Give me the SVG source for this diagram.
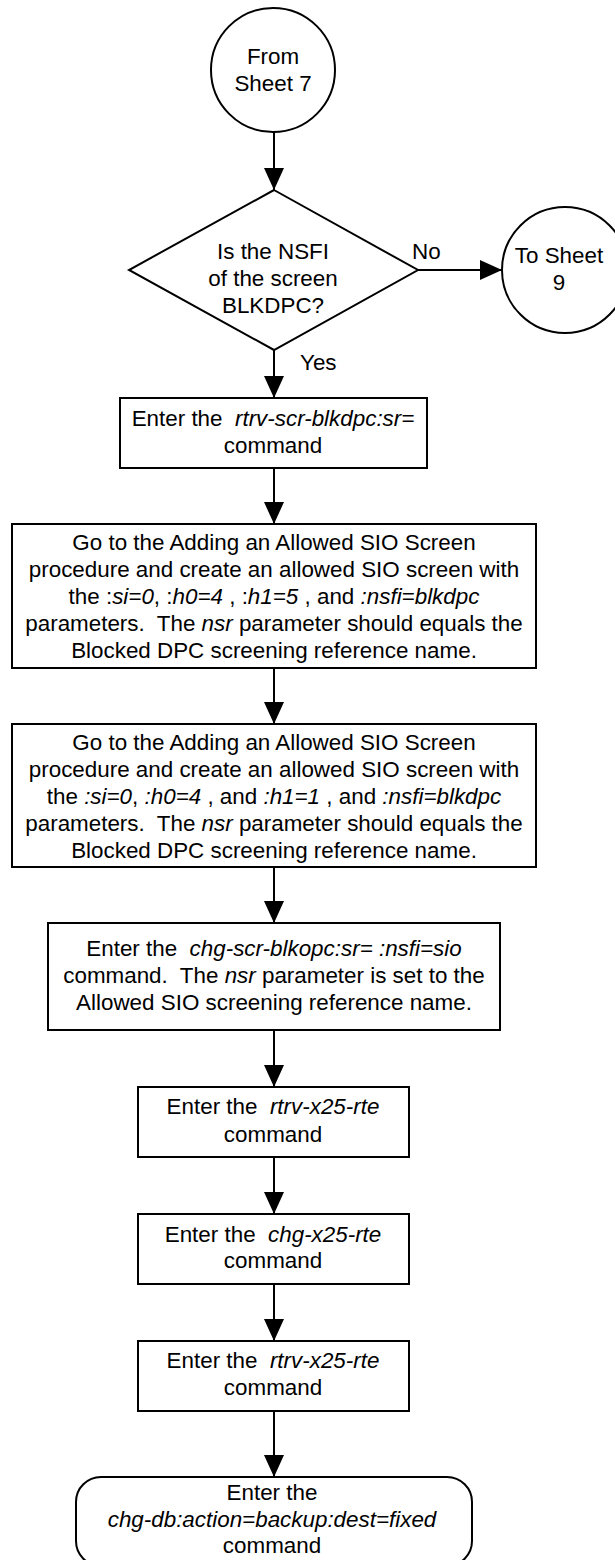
<svg xmlns="http://www.w3.org/2000/svg" width="615" height="1560" viewBox="0 0 615 1560">
<style>
  .shape { fill: #ffffff; stroke: #000000; stroke-width: 2; }
  .conn { fill: none; stroke: #000000; stroke-width: 2; }
  text { font-family: "Liberation Sans", Arial, Helvetica, sans-serif; font-size: 22.4px; fill: #000000; }
  .c { text-anchor: middle; }
  .i { font-style: italic; }
</style>
<defs>
  <marker id="arrow" viewBox="0 0 22 20" refX="22" refY="10" markerWidth="22" markerHeight="20" markerUnits="userSpaceOnUse" orient="auto">
    <path d="M0,0 L22,10 L0,20 z" fill="#000000"/>
  </marker>
</defs>

<g id="connectors">
  <line class="conn" x1="274" y1="132" x2="274" y2="190" marker-end="url(#arrow)"/>
  <line class="conn" x1="418" y1="270" x2="502" y2="270" marker-end="url(#arrow)"/>
  <line class="conn" x1="274" y1="350" x2="274" y2="398" marker-end="url(#arrow)"/>
  <line class="conn" x1="274" y1="468" x2="274" y2="524" marker-end="url(#arrow)"/>
  <line class="conn" x1="274" y1="668" x2="274" y2="724" marker-end="url(#arrow)"/>
  <line class="conn" x1="274" y1="867" x2="274" y2="923" marker-end="url(#arrow)"/>
  <line class="conn" x1="274" y1="1030" x2="274" y2="1087" marker-end="url(#arrow)"/>
  <line class="conn" x1="274" y1="1157" x2="274" y2="1214" marker-end="url(#arrow)"/>
  <line class="conn" x1="274" y1="1284" x2="274" y2="1341" marker-end="url(#arrow)"/>
  <line class="conn" x1="274" y1="1411" x2="274" y2="1477" marker-end="url(#arrow)"/>
  <text x="412" y="259">No</text>
  <text x="300" y="370">Yes</text>
</g>

<g id="from-sheet-7">
  <circle class="shape" cx="273" cy="70" r="62"/>
  <text class="c" x="273" y="64">From</text>
  <text class="c" x="273" y="91">Sheet 7</text>
</g>

<g id="decision-nsfi">
  <polygon class="shape" points="274,190 418,270 274,350 129,270"/>
  <text class="c" x="273" y="259">Is the NSFI</text>
  <text class="c" x="273" y="286">of the screen</text>
  <text class="c" x="273" y="313">BLKDPC?</text>
</g>

<g id="to-sheet-9">
  <circle class="shape" cx="565" cy="270" r="63"/>
  <text class="c" x="559" y="263">To Sheet</text>
  <text class="c" x="559" y="290">9</text>
</g>

<g id="rtrv-scr-blkdpc">
  <rect class="shape" x="120" y="398" width="307" height="70"/>
  <text class="c" x="273" y="426" xml:space="preserve">Enter the  <tspan class="i">rtrv-scr-blkdpc:sr=</tspan></text>
  <text class="c" x="273" y="453">command</text>
</g>

<g id="add-sio-h1-5">
  <rect class="shape" x="12" y="524" width="524" height="144"/>
  <text class="c" x="274" y="550">Go to the Adding an Allowed SIO Screen</text>
  <text class="c" x="274" y="577">procedure and create an allowed SIO screen with</text>
  <text class="c" x="274" y="604" xml:space="preserve">the :<tspan class="i">si=0</tspan>, :<tspan class="i">h0=4</tspan> , :<tspan class="i">h1=5</tspan> , and <tspan class="i">:nsfi=blkdpc</tspan></text>
  <text class="c" x="274" y="631" xml:space="preserve">parameters.  The <tspan class="i">nsr</tspan> parameter should equals the</text>
  <text class="c" x="274" y="658">Blocked DPC screening reference name.</text>
</g>

<g id="add-sio-h1-1">
  <rect class="shape" x="12" y="724" width="524" height="143"/>
  <text class="c" x="274" y="750">Go to the Adding an Allowed SIO Screen</text>
  <text class="c" x="274" y="777">procedure and create an allowed SIO screen with</text>
  <text class="c" x="274" y="804" xml:space="preserve">the <tspan class="i">:si=0</tspan>, <tspan class="i">:h0=4</tspan> , and <tspan class="i">:h1=1</tspan> , and <tspan class="i">:nsfi=blkdpc</tspan></text>
  <text class="c" x="274" y="831" xml:space="preserve">parameters.  The <tspan class="i">nsr</tspan> parameter should equals the</text>
  <text class="c" x="274" y="858">Blocked DPC screening reference name.</text>
</g>

<g id="chg-scr-blkopc">
  <rect class="shape" x="48" y="923" width="452" height="107"/>
  <text class="c" x="274" y="956" xml:space="preserve">Enter the  <tspan class="i">chg-scr-blkopc:sr= :nsfi=sio</tspan></text>
  <text class="c" x="274" y="983" xml:space="preserve">command.  The <tspan class="i">nsr</tspan> parameter is set to the</text>
  <text class="c" x="274" y="1010">Allowed SIO screening reference name.</text>
</g>

<g id="rtrv-x25-rte-1">
  <rect class="shape" x="138" y="1087" width="271" height="70"/>
  <text class="c" x="273" y="1114" xml:space="preserve">Enter the  <tspan class="i">rtrv-x25-rte</tspan></text>
  <text class="c" x="273" y="1142">command</text>
</g>

<g id="chg-x25-rte">
  <rect class="shape" x="138" y="1214" width="271" height="70"/>
  <text class="c" x="273" y="1242" xml:space="preserve">Enter the  <tspan class="i">chg-x25-rte</tspan></text>
  <text class="c" x="273" y="1268">command</text>
</g>

<g id="rtrv-x25-rte-2">
  <rect class="shape" x="138" y="1341" width="271" height="70"/>
  <text class="c" x="273" y="1368" xml:space="preserve">Enter the  <tspan class="i">rtrv-x25-rte</tspan></text>
  <text class="c" x="273" y="1395">command</text>
</g>

<g id="chg-db-backup">
  <rect class="shape" x="76" y="1477" width="396" height="89" rx="25" ry="25"/>
  <text class="c" x="272" y="1500">Enter the</text>
  <text class="c i" x="272" y="1527">chg-db:action=backup:dest=fixed</text>
  <text class="c" x="272" y="1553">command</text>
</g>
</svg>
